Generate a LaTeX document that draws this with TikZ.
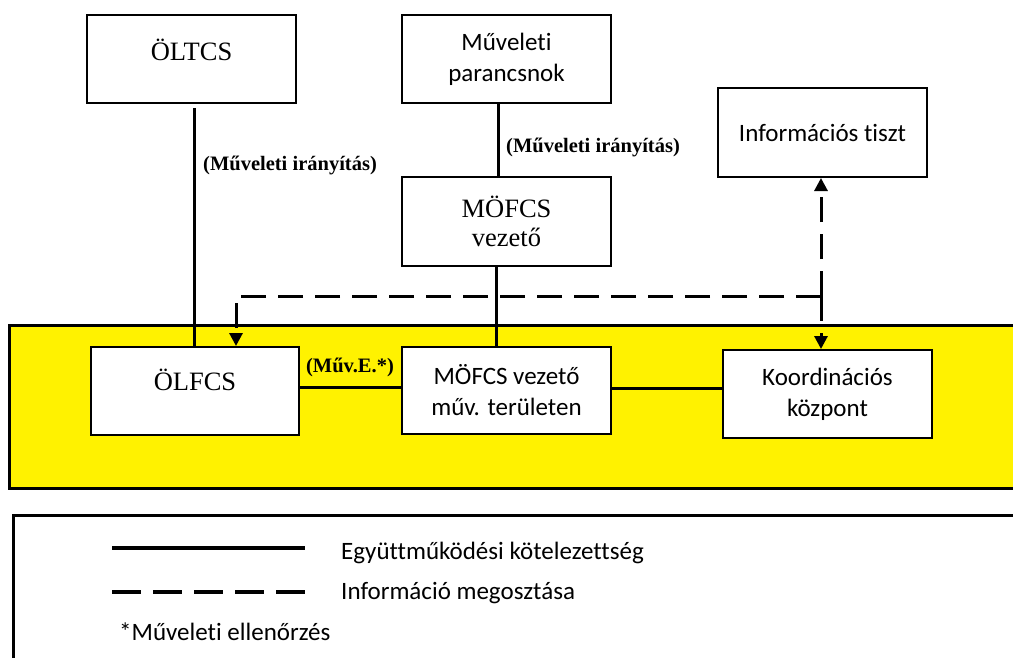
\documentclass[tikz,border=0pt]{standalone}
\usepackage{fontspec}
\setmainfont{Carlito}[Ligatures=NoCommon]
\newfontfamily\tnr{Liberation Serif}
\usetikzlibrary{arrows.meta}
\begin{document}
\begin{tikzpicture}[x=1pt,y=-1pt,
  box/.style={draw,line width=2pt,fill=white,inner sep=0pt,align=center,minimum width=209pt,minimum height=88pt},
  sans/.style={font=\fontsize{25}{31}\selectfont},
  serif/.style={font=\tnr\fontsize{26.5}{29}\selectfont},
  lab/.style={font=\tnr\bfseries\fontsize{20.5}{25}\selectfont,inner sep=0pt},
  conn/.style={line width=3pt},
  dsh/.style={line width=3pt,dash pattern=on 25pt off 12pt},
  tip/.style={-{Triangle[length=13pt,width=13pt]}}
]
\useasboundingbox (0,0) rectangle (1013,657);
\clip (0,0) rectangle (1013,657);
\fill[white] (0,0) rectangle (1013,657);
% yellow area
\draw[line width=3pt,fill=yellow] (9,325) rectangle (1030,488);
% boxes
\node[box,serif,text height=17.5pt,text depth=14pt] (oltcs) at (191.5,59) {ÖLTCS};
\node[box,sans] (parancs) at (506.5,59) {Műveleti\\parancsnok};
\node[box,serif,minimum height=89pt] (mofcs) at (506.5,221.5) {MÖFCS\\vezető};
\node[box,sans,minimum height=89pt] (info) at (822.5,132.5) {Információs tiszt};
\node[box,serif,minimum width=208pt,text height=17.5pt,text depth=18pt] (olfcs) at (195,391) {ÖLFCS};
\node[box,sans,minimum height=87pt] (mofcsm) at (506.5,390.5) {MÖFCS vezető\\műv. területen};
\node[box,sans] (koord) at (827.5,394) {Koordinációs\\központ};
% solid connectors
\draw[conn,shorten <=4pt] ([xshift=-1pt]olfcs.north |- oltcs.south) -- ([xshift=-1pt]olfcs.north);
\draw[conn] ([xshift=-8.5pt]parancs.south) -- ([xshift=-8.5pt]mofcs.north);
\draw[conn] ([xshift=-10.5pt]mofcs.south) -- ([xshift=-10.5pt]mofcsm.north);
\draw[conn] ([yshift=4pt]olfcs.east) -- ([yshift=3.5pt]mofcsm.west);
\draw[conn] ([yshift=2.5pt]mofcsm.east) -- ([yshift=6pt]koord.west);
% dashed information links
\coordinate (jr) at (821,296);
\coordinate (jl) at (236,296);
\draw[dsh,tip] (jr) -- (jr |- info.south);
\draw[dsh,tip] (jr) -- (jr |- koord.north);
\draw[dsh,tip] (jr) -- (jl) -- (jl |- olfcs.north);
% labels
\node[lab] (l1) at (290,165) {(Műveleti irányítás)};
\node[lab] (l2) at (593,147) {(Műveleti irányítás)};
\node[lab] (l3) at (350,367) {(Műv.E.*)};
% legend
\draw[line width=3pt] (13,515) rectangle (1030,680);
\coordinate (s1) at (112,548);
\coordinate (s2) at (305,548);
\coordinate (d1) at (112,592);
\coordinate (d2) at (305,592);
\draw[line width=4pt] (s1) -- (s2);
\draw[line width=4pt,dash pattern=on 29pt off 12pt] (d1) -- (d2);
\node[sans,anchor=base west,inner sep=0pt] (t1) at (341,559) {Együttműködési kötelezettség};
\node[sans,anchor=base west,inner sep=0pt] (t2) at (341,599) {Információ megosztása};
\node[sans,anchor=base west,inner sep=0pt] (t3) at (119,640) {*Műveleti ellenőrzés};
\end{tikzpicture}
\end{document}
